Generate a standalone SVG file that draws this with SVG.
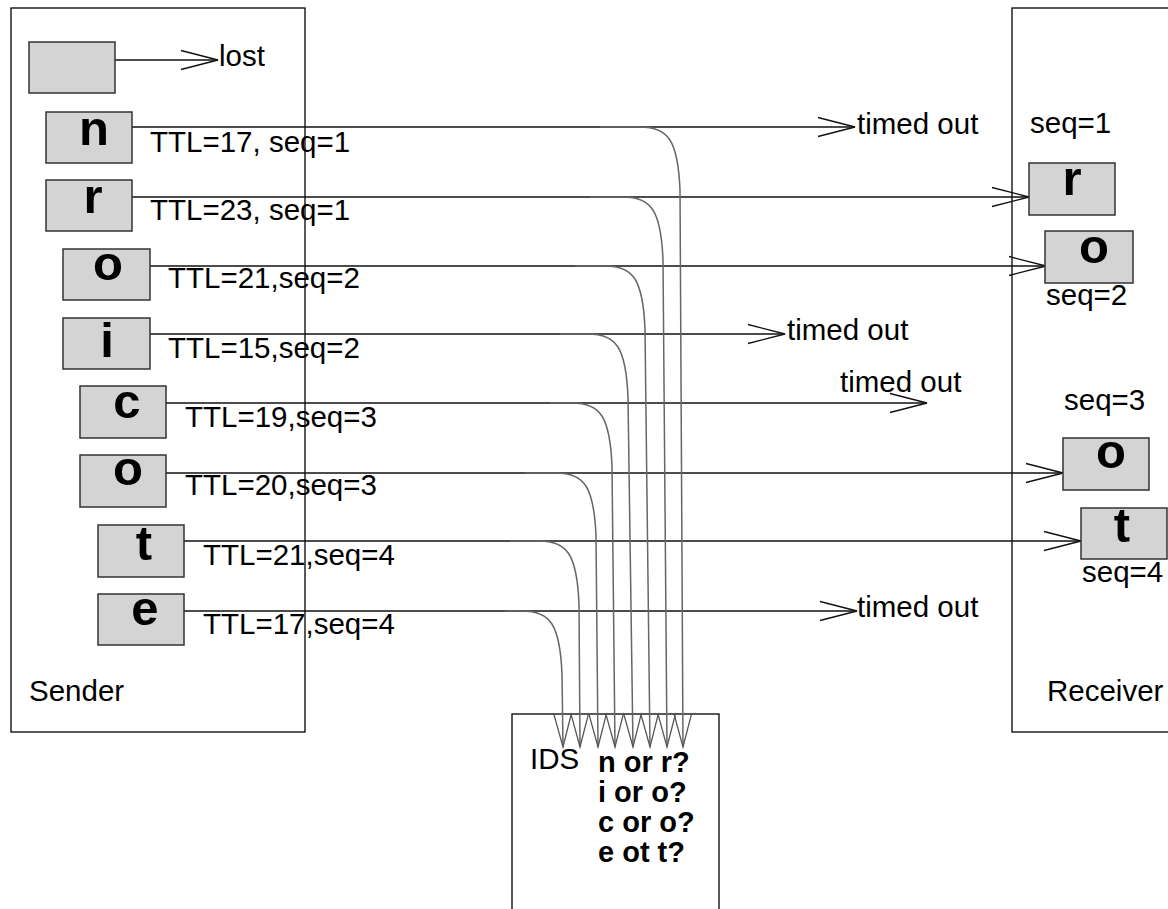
<svg xmlns="http://www.w3.org/2000/svg" width="1168" height="909" viewBox="0 0 1168 909">
<style>
.frame{fill:#fff;stroke:#000;stroke-width:1.3}
.pkt{fill:#d4d4d4;stroke:#333;stroke-width:1.5}
.let{font-family:"Liberation Sans",Arial,sans-serif;font-weight:bold;font-size:49px;text-anchor:middle;fill:#000}
.lbl{font-family:"Liberation Sans",Arial,sans-serif;font-size:29.5px;fill:#000}
.bl{font-family:"Liberation Sans",Arial,sans-serif;font-size:29px;font-weight:bold;fill:#000}
.ln{fill:none;stroke:#111;stroke-width:1.5;marker-end:url(#ah)}
.cv{fill:none;stroke:#666;stroke-width:1.5;marker-end:url(#ah2)}
</style>
<defs>
<marker id="ah" markerUnits="userSpaceOnUse" markerWidth="40" markerHeight="22" refX="37" refY="10" orient="auto" overflow="visible">
<path d="M0,0.5 L37,10 L0,19.5" fill="none" stroke="#111" stroke-width="1.3"/>
</marker>
<marker id="ah2" markerUnits="userSpaceOnUse" markerWidth="36" markerHeight="20" refX="34" refY="9" orient="auto" overflow="visible">
<path d="M0,0 L34,9 L0,18" fill="none" stroke="#555" stroke-width="1.3"/>
</marker>
</defs>

<g id="sender">
<rect class="frame" x="11" y="8" width="294" height="724"/>
<text class="lbl" x="29" y="701">Sender</text>
</g>
<g id="receiver">
<rect class="frame" x="1012" y="8" width="170" height="724"/>
<text class="lbl" x="1047" y="701">Receiver</text>
</g>
<g id="ids">
<rect class="frame" x="512" y="714" width="207" height="210"/>
<text class="lbl" x="530" y="769">IDS</text>
<text class="bl" x="598" y="772">n or r?</text>
<text class="bl" x="598" y="802">i or o?</text>
<text class="bl" x="598" y="832">c or o?</text>
<text class="bl" x="598" y="862">e ot t?</text>
</g>

<g id="connectors">
<path class="ln" d="M115,60 H218"/>
<path class="ln" d="M132,127 H855"/>
<path class="ln" d="M132,197 H1029"/>
<path class="ln" d="M150,266 H1046"/>
<path class="ln" d="M150,334 H785"/>
<path class="ln" d="M166,403 H927"/>
<path class="ln" d="M166,473 H1063"/>
<path class="ln" d="M184,541 H1081"/>
<path class="ln" d="M184,611 H857"/>
<path class="cv" d="M600,127 L640,127 C668,127 678,140 680,190 L683,747"/>
<path class="cv" d="M590,197 L623,197 C651,197 661,210 663,260 L667,747"/>
<path class="cv" d="M575,266 L605,266 C633,266 643,279 645,329 L650,747"/>
<path class="cv" d="M560,334 L588,334 C616,334 626,347 628,397 L633,747"/>
<path class="cv" d="M550,403 L572,403 C600,403 610,416 612,466 L615,747"/>
<path class="cv" d="M525,473 L556,473 C584,473 594,486 596,536 L598,747"/>
<path class="cv" d="M510,541 L539,541 C567,541 577,554 579,604 L580,747"/>
<path class="cv" d="M505,611 L522,611 C550,611 560,624 562,674 L563,747"/>
</g>

<g id="lost">
<rect class="pkt" x="29" y="42" width="86" height="51"/>
<text class="lbl" x="219" y="66">lost</text>
</g>
<g id="pkt-n">
<rect class="pkt" x="46" y="112" width="86" height="51"/>
<text class="let" x="94" y="145">n</text>
<text class="lbl" x="150" y="152">TTL=17, seq=1</text>
<text class="lbl" x="857" y="134">timed out</text>
</g>
<g id="pkt-r">
<rect class="pkt" x="46" y="180" width="86" height="51"/>
<text class="let" x="93" y="213">r</text>
<text class="lbl" x="150" y="220">TTL=23, seq=1</text>
</g>
<g id="pkt-o1">
<rect class="pkt" x="63" y="249" width="87" height="51"/>
<text class="let" x="108" y="280">o</text>
<text class="lbl" x="168" y="288">TTL=21,seq=2</text>
</g>
<g id="pkt-i">
<rect class="pkt" x="63" y="318" width="87" height="51"/>
<text class="let" x="107" y="357">i</text>
<text class="lbl" x="168" y="358">TTL=15,seq=2</text>
<text class="lbl" x="787" y="340">timed out</text>
</g>
<g id="pkt-c">
<rect class="pkt" x="80" y="386" width="86" height="52"/>
<text class="let" x="127" y="418">c</text>
<text class="lbl" x="185" y="427">TTL=19,seq=3</text>
<text class="lbl" x="840" y="392">timed out</text>
</g>
<g id="pkt-o2">
<rect class="pkt" x="80" y="455" width="86" height="52"/>
<text class="let" x="128" y="485">o</text>
<text class="lbl" x="185" y="495">TTL=20,seq=3</text>
</g>
<g id="pkt-t">
<rect class="pkt" x="98" y="525" width="86" height="52"/>
<text class="let" x="144" y="560">t</text>
<text class="lbl" x="203" y="565">TTL=21,seq=4</text>
</g>
<g id="pkt-e">
<rect class="pkt" x="98" y="594" width="86" height="51"/>
<text class="let" x="145" y="625">e</text>
<text class="lbl" x="203" y="634">TTL=17,seq=4</text>
<text class="lbl" x="857" y="617">timed out</text>
</g>

<g id="recv-r">
<text class="lbl" x="1030" y="133">seq=1</text>
<rect class="pkt" x="1029" y="163" width="86" height="52"/>
<text class="let" x="1072" y="195">r</text>
</g>
<g id="recv-o1">
<rect class="pkt" x="1045" y="231" width="88" height="52"/>
<text class="let" x="1094" y="263">o</text>
<text class="lbl" x="1046" y="305">seq=2</text>
</g>
<g id="recv-o2">
<text class="lbl" x="1064" y="410">seq=3</text>
<rect class="pkt" x="1063" y="438" width="86" height="52"/>
<text class="let" x="1111" y="468">o</text>
</g>
<g id="recv-t">
<rect class="pkt" x="1081" y="508" width="86" height="51"/>
<text class="let" x="1122" y="542">t</text>
<text class="lbl" x="1082" y="582">seq=4</text>
</g>
</svg>
